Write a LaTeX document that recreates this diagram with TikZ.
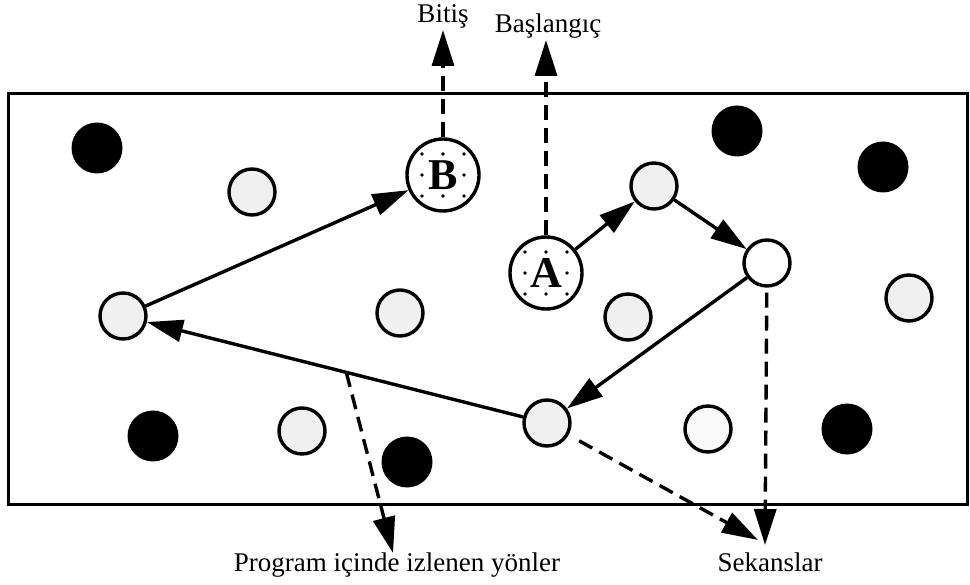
\documentclass[tikz,border=0pt]{standalone}
\usepackage{fontspec}
\setmainfont{Liberation Serif}
\usetikzlibrary{arrows.meta}
\begin{document}
\begin{tikzpicture}[x=1pt,y=-1pt,
  cell/.style={circle,draw,line width=3.4pt,minimum size=46pt,inner sep=0pt},
  grain/.style={cell,fill=black!6},
  faint/.style={cell,fill=black!2},
  empty/.style={cell,fill=white},
  blob/.style={circle,fill=black,minimum size=51pt,inner sep=0pt},
  endpoint/.style={circle,draw,line width=3.4pt,minimum size=72pt,inner sep=0pt,
    font=\fontsize{44}{44}\selectfont\bfseries},
  flow/.style={line width=3.4pt,-{Triangle[length=36pt,width=22pt]}},
  trace/.style={flow,dash pattern=on 15pt off 8pt},
  lbl/.style={font=\fontsize{27}{27}\selectfont,inner sep=0pt,anchor=base}
]
\useasboundingbox (0,0) rectangle (970,585);

% frame
\draw[line width=3pt] (8,94) rectangle (967,504);

% filled (black) grains
\node[blob] (k1) at (97,148) {};
\node[blob] (k2) at (737,131) {};
\node[blob] (k3) at (883,167) {};
\node[blob] (k4) at (153,436) {};
\node[blob] (k5) at (407,462) {};
\node[blob] (k6) at (847,429) {};

% stippled grains
\node[grain] (g1) at (252,192) {};
\node[grain] (ga) at (654,186) {};
\node[grain] (gl) at (123,316) {};
\node[grain] (g4) at (400,313) {};
\node[grain] (g5) at (628,317) {};
\node[grain] (g6) at (909,298) {};
\node[grain] (g7) at (302,431) {};
\node[grain] (gb) at (547,423) {};
\node[faint] (g9) at (708,429) {};
\node[empty] (w) at (767,263) {};

% start and end grains
\node[endpoint] (B) at (443,175) {B};
\node[endpoint] (A) at (546,273) {A};
\foreach \n in {A,B}{
  \foreach \dx/\dy in {-21/-21,0/-21,21/-21,-21/0,21/0,-21/21,0/21,21/21}
    \fill[shift={(\n)}] (\dx,\dy) circle (1.9pt);
}

% free ends of the open arrows
\coordinate (btip) at (443,30);
\coordinate (atip) at (546,40);
\coordinate (ptip) at (393,553);
\coordinate (stip1) at (758,540);
\coordinate (stip2) at (765,545);

% path through the grains
\draw[flow] (A) -- (ga);
\draw[flow] (ga) -- (w);
\draw[flow] (w) -- (gb);
\draw[flow] (gb) -- coordinate[pos=0.47] (fork) (gl);
\draw[flow] (gl) -- (B);

% dashed pointers
\draw[trace] (B) -- (btip);
\draw[trace] (A) -- (atip);
\draw[trace] (fork) -- (ptip);
\draw[trace,shorten <=12pt] (gb) -- (stip1);
\draw[trace,shorten <=5pt] (w) -- (stip2);

% labels
\node[lbl] (lb) at (443,23) {Bitiş};
\node[lbl] (la) at (548,33) {Başlangıç};
\node[lbl] (lp) at (397,571) {Program içinde izlenen yönler};
\node[lbl] (ls) at (770,571) {Sekanslar};
\end{tikzpicture}
\end{document}
